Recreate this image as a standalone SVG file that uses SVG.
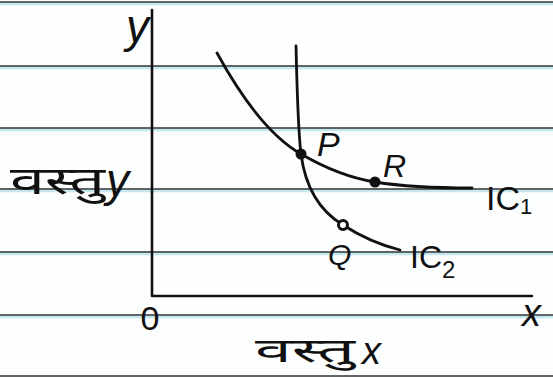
<svg xmlns="http://www.w3.org/2000/svg" width="553" height="378" viewBox="0 0 553 378">
<style>
.rule{stroke:#2e3134;stroke-width:1.6;fill:none}
.tint{stroke:#c4e8ef;stroke-width:2.5;fill:none}
.ink{stroke:#111;fill:none;stroke-linecap:round;stroke-linejoin:round}
.t{font-family:"Liberation Sans","Noto Sans",sans-serif;fill:#111}
.hi{font-family:"Noto Sans Devanagari","Lohit Devanagari","Noto Sans","DejaVu Sans",sans-serif;fill:#111}
</style>
<rect width="553" height="378" fill="#fdfefe"/>
<g id="paper">
<line class="tint" x1="0" y1="4" x2="553" y2="4"/><line class="rule" x1="0" y1="2" x2="553" y2="2"/>
<line class="tint" x1="0" y1="68" x2="553" y2="68"/><line class="rule" x1="0" y1="66" x2="553" y2="66"/>
<line class="tint" x1="0" y1="130" x2="553" y2="130"/><line class="rule" x1="0" y1="128" x2="553" y2="128"/>
<line class="tint" x1="0" y1="191" x2="553" y2="191"/><line class="rule" x1="0" y1="189" x2="553" y2="189"/>
<line class="tint" x1="0" y1="254" x2="553" y2="254"/><line class="rule" x1="0" y1="252" x2="553" y2="252"/>
<line class="tint" x1="0" y1="317" x2="553" y2="317"/><line class="rule" x1="0" y1="315" x2="553" y2="315"/>
<line class="rule" x1="0" y1="376" x2="553" y2="376"/>
</g>
<g id="axes">
<path class="ink" stroke-width="2.6" d="M152,10 L152,296 L532,296"/>
<text class="t" x="126" y="42" font-size="46" font-style="italic">y</text>
<text class="t" x="150" y="330" font-size="34" text-anchor="middle">0</text>
<text class="t" x="522" y="326" font-size="38" font-style="italic">x</text>
<text class="hi" x="10" y="194" font-size="38" textLength="95" lengthAdjust="spacingAndGlyphs">वस्तु</text>
<text class="t" x="106" y="196" font-size="46" font-style="italic">y</text>
<text class="hi" x="255" y="362" font-size="33" textLength="100" lengthAdjust="spacingAndGlyphs">वस्तु</text>
<text class="t" x="362" y="364" font-size="38" font-style="italic">x</text>
</g>
<g id="curves">
<path id="IC1-curve" class="ink" stroke-width="2.8" d="M217,53 C240,95 268,135 301,154 C325,168 350,178 375,182 C400,186 440,188 472,188"/>
<path id="IC2-curve" class="ink" stroke-width="2.8" d="M296,46 C297,90 298,130 301,154 C305,185 318,210 343,225 C360,236 380,245 400,250"/>
</g>
<g id="P"><circle cx="301" cy="154" r="5.5" fill="#111"/><text class="t" x="317" y="156" font-size="34" font-style="italic">P</text></g>
<g id="R"><circle cx="375" cy="182" r="5.5" fill="#111"/><text class="t" x="383" y="177" font-size="32" font-style="italic">R</text></g>
<g id="Q"><circle cx="343" cy="225" r="4.5" fill="#fff" stroke="#111" stroke-width="3"/><text class="t" x="328" y="265" font-size="30" font-style="italic">Q</text></g>
<g id="IC1"><text class="t" x="486" y="210" font-size="34">IC<tspan font-size="22" dy="4">1</tspan></text></g>
<g id="IC2"><text class="t" x="410" y="268" font-size="32">IC<tspan font-size="24" dy="10">2</tspan></text></g>
</svg>
